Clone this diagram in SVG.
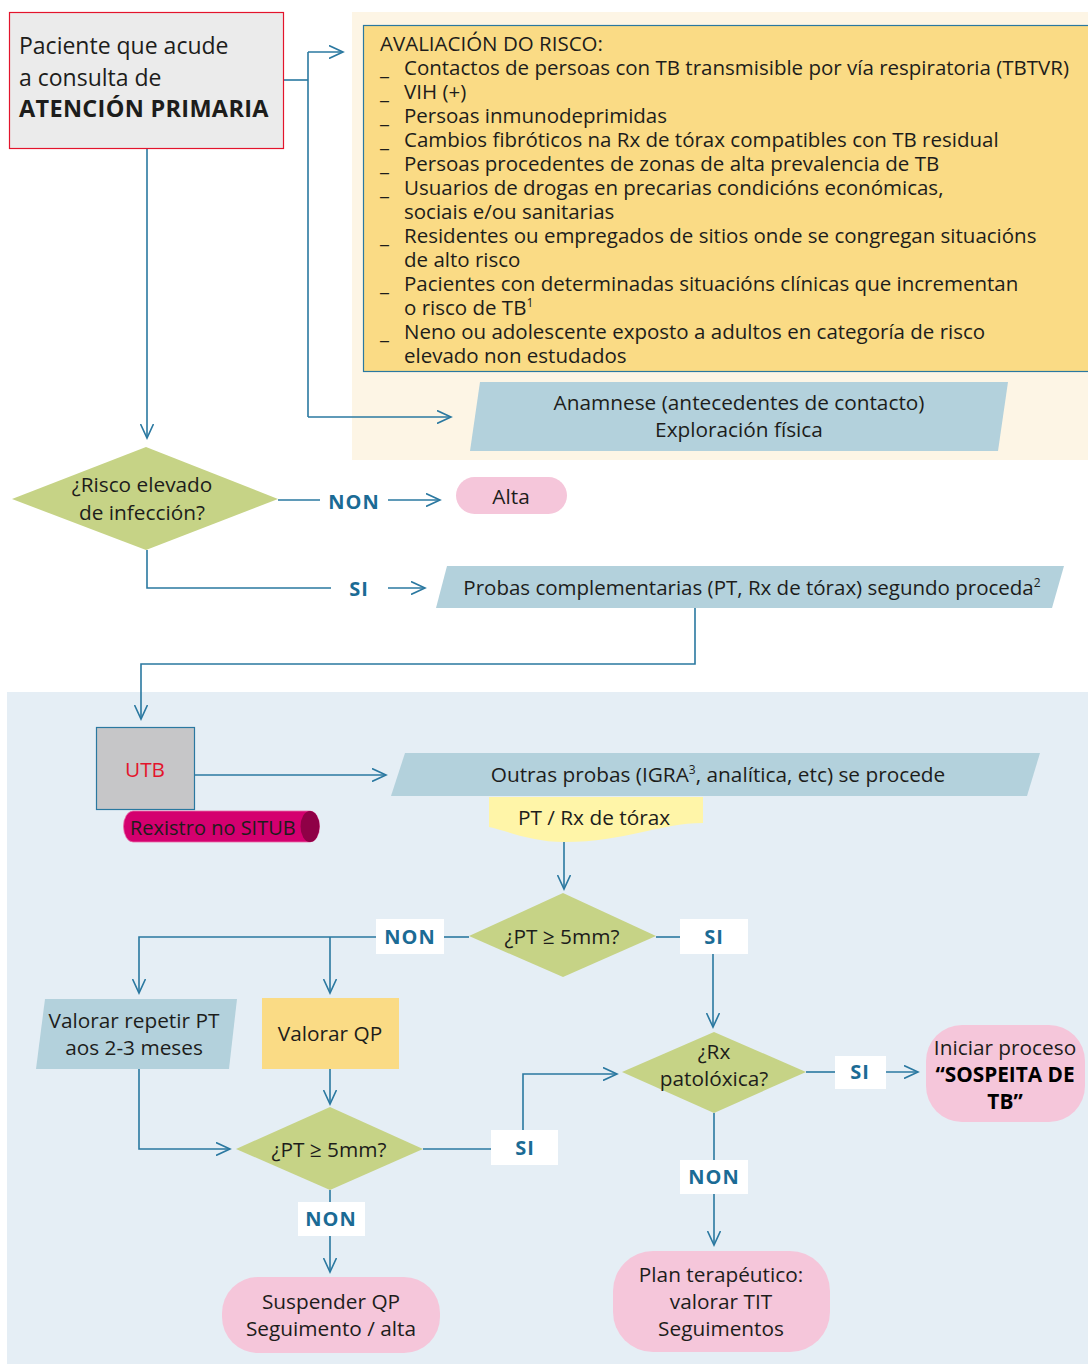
<svg xmlns="http://www.w3.org/2000/svg" width="1088" height="1364" viewBox="0 0 1088 1364">
<style>
text{font-family:"Open Sans","Noto Sans",sans-serif;fill:#1d1d1b;font-size:20.8px}
.c{text-anchor:middle}
.rl{font-size:20.5px}
.lb{font-weight:bold;fill:#1b6b95;font-size:20px;text-anchor:middle;letter-spacing:1px}
.ln{fill:none;stroke:#2a78a0;stroke-width:1.6}
.ar{marker-end:url(#ah)}
.para{fill:#b3d1dc}
.dia{fill:#c6d386}
.pill{fill:#f5c6da}
.wb{fill:#ffffff}
</style>
<defs>
<marker id="ah" markerUnits="userSpaceOnUse" markerWidth="16" markerHeight="14" refX="14" refY="7" orient="auto">
<path d="M0,0.5 L14,7 L0,13.5" fill="none" stroke="#2a78a0" stroke-width="1.6"/>
</marker>
</defs>

<!-- backgrounds -->
<rect x="352" y="12" width="736" height="448" fill="#fdf5e5"/>
<rect x="7" y="692" width="1081" height="672" fill="#e5eef5"/>

<g id="connectors">
<path class="ln" d="M284,80 H308"/>
<path class="ln" d="M308,52 V417"/>
<path class="ln ar" d="M308,52 H343"/>
<path class="ln ar" d="M308,417 H451"/>
<path class="ln ar" d="M147,149 V438"/>
<path class="ln" d="M278,500 H320"/>
<path class="ln ar" d="M388,500 H440"/>
<path class="ln" d="M147,550 V588 H331"/>
<path class="ln ar" d="M388,588 H425"/>
<path class="ln ar" d="M695,608 V664 H141 V719"/>
<path class="ln ar" d="M195,775 H386"/>
<path class="ln ar" d="M564,842 V889"/>
<path class="ln" d="M469,937 H444"/>
<path class="ln ar" d="M376,937 H139 V993"/>
<path class="ln ar" d="M330,937 V993"/>
<path class="ln" d="M656,937 H680"/>
<path class="ln ar" d="M713,954 V1027"/>
<path class="ln ar" d="M330,1069 V1104"/>
<path class="ln ar" d="M139,1069 V1149 H230"/>
<path class="ln" d="M423,1149 H491"/>
<path class="ln ar" d="M523,1130 V1074 H617"/>
<path class="ln" d="M806,1072 H835"/>
<path class="ln ar" d="M885,1072 H918"/>
<path class="ln" d="M714,1113 V1160"/>
<path class="ln ar" d="M714,1194 V1245"/>
<path class="ln" d="M330,1190 V1202"/>
<path class="ln ar" d="M330,1236 V1272"/>
</g>

<g id="n-paciente">
<rect x="9.5" y="12.5" width="274" height="136" fill="#ebebeb" stroke="#e3142c" stroke-width="1.2"/>
<text x="19" y="54" style="font-size:23px">Paciente que acude</text>
<text x="19" y="86" style="font-size:23px">a consulta de</text>
<text x="19" y="117" style="font-size:23.5px;font-weight:bold;letter-spacing:0.3px">ATENCIÓN PRIMARIA</text>
</g>

<g id="n-risco">
<rect x="363.5" y="25.5" width="730" height="346" fill="#fadb85" stroke="#2a78a0" stroke-width="1.2"/>
<text class="rl" x="380" y="51">AVALIACIÓN DO RISCO:</text>
<text class="rl" x="380" y="75">_<tspan x="404">Contactos de persoas con TB transmisible por vía respiratoria (TBTVR)</tspan></text>
<text class="rl" x="380" y="99">_<tspan x="404">VIH (+)</tspan></text>
<text class="rl" x="380" y="123">_<tspan x="404">Persoas inmunodeprimidas</tspan></text>
<text class="rl" x="380" y="147">_<tspan x="404">Cambios fibróticos na Rx de tórax compatibles con TB residual</tspan></text>
<text class="rl" x="380" y="171">_<tspan x="404">Persoas procedentes de zonas de alta prevalencia de TB</tspan></text>
<text class="rl" x="380" y="195">_<tspan x="404">Usuarios de drogas en precarias condicións económicas,</tspan></text>
<text class="rl" x="404" y="219">sociais e/ou sanitarias</text>
<text class="rl" x="380" y="243">_<tspan x="404">Residentes ou empregados de sitios onde se congregan situacións</tspan></text>
<text class="rl" x="404" y="267">de alto risco</text>
<text class="rl" x="380" y="291">_<tspan x="404">Pacientes con determinadas situacións clínicas que incrementan</tspan></text>
<text class="rl" x="404" y="315">o risco de TB<tspan style="font-size:12px" dy="-8">1</tspan></text>
<text class="rl" x="380" y="339">_<tspan x="404">Neno ou adolescente exposto a adultos en categoría de risco</tspan></text>
<text class="rl" x="404" y="363">elevado non estudados</text>
</g>

<g id="n-anamnese">
<polygon class="para" points="480,382 1008,382 998,451 470,451"/>
<text class="c" x="739" y="410">Anamnese (antecedentes de contacto)</text>
<text class="c" x="739" y="437">Exploración física</text>
</g>

<g id="n-risco-elevado">
<polygon class="dia" points="146,447 278,499 146,550 12,499"/>
<text class="c" x="142" y="492">¿Risco elevado</text>
<text class="c" x="142" y="520">de infección?</text>
</g>

<g id="l-non1"><text class="lb" x="354" y="509">NON</text></g>

<g id="n-alta">
<rect class="pill" x="456" y="477" width="111" height="37" rx="18.5"/>
<text class="c" x="511" y="504">Alta</text>
</g>

<g id="l-si1"><text class="lb" x="359" y="596">SI</text></g>

<g id="n-probas">
<polygon class="para" points="447,566 1064,566 1052,608 436,608"/>
<text class="c" x="752" y="595" style="font-size:20.5px">Probas complementarias (PT, Rx de tórax) segundo proceda<tspan style="font-size:12px" dy="-8">2</tspan></text>
</g>

<g id="n-utb">
<rect x="96.5" y="727.5" width="98" height="82" fill="#c6c6c8" stroke="#2a78a0" stroke-width="1.2"/>
<text class="c" x="145" y="777" style="fill:#e3142c">UTB</text>
</g>

<g id="n-situb">
<path d="M133,811 H310 A9.5,15.5 0 0 1 310,842 H133 A9.5,15.5 0 0 1 133,811 Z" fill="#d4006f" stroke="#e86aa6" stroke-width="0.8"/>
<ellipse cx="310" cy="826.5" rx="9.5" ry="15.5" fill="#8f0046"/>
<text x="130" y="835" style="font-size:20px">Rexistro no SITUB</text>
</g>

<g id="n-outras">
<polygon class="para" points="405,753 1040,753 1027,796 391,796"/>
<text class="c" x="718" y="782">Outras probas (IGRA<tspan style="font-size:12px" dy="-8">3</tspan><tspan dy="8">, analítica, etc) se procede</tspan></text>
</g>

<g id="n-ptrx">
<path d="M489,797 H703 V823 C660,823 625,842 565,842 C530,842 505,830 489,827 Z" fill="#fff5a8"/>
<text class="c" x="594" y="825">PT / Rx de tórax</text>
</g>

<g id="n-pt1">
<polygon class="dia" points="563,893 656,936 563,977 469,936"/>
<text class="c" x="562" y="944">¿PT ≥ 5mm?</text>
</g>

<g id="l-non2"><rect class="wb" x="376" y="919" width="68" height="35"/><text class="lb" x="410" y="944">NON</text></g>
<g id="l-si2"><rect class="wb" x="680" y="919" width="68" height="35"/><text class="lb" x="714" y="944">SI</text></g>

<g id="n-repetir">
<polygon class="para" points="45,999 237,999 229,1069 36,1069"/>
<text class="c" x="134" y="1028">Valorar repetir PT</text>
<text class="c" x="134" y="1055">aos 2-3 meses</text>
</g>

<g id="n-qp">
<rect x="262" y="998" width="137" height="71" fill="#fadb85"/>
<text class="c" x="330" y="1041">Valorar QP</text>
</g>

<g id="n-pt2">
<polygon class="dia" points="330,1107 423,1149 330,1190 236,1149"/>
<text class="c" x="329" y="1157">¿PT ≥ 5mm?</text>
</g>

<g id="l-si3"><rect class="wb" x="491" y="1130" width="67" height="35"/><text class="lb" x="525" y="1155">SI</text></g>

<g id="n-rx">
<polygon class="dia" points="714,1032 806,1072 714,1113 622,1072"/>
<text class="c" x="714" y="1059">¿Rx</text>
<text class="c" x="714" y="1086">patolóxica?</text>
</g>

<g id="l-si4"><rect class="wb" x="835" y="1056" width="51" height="33"/><text class="lb" x="860" y="1079">SI</text></g>

<g id="n-iniciar">
<rect class="pill" x="926" y="1025" width="159" height="97" rx="36"/>
<text class="c" x="1005" y="1055">Iniciar proceso</text>
<text class="c" x="1005" y="1082" style="font-weight:bold;fill:#000">“SOSPEITA DE</text>
<text class="c" x="1005" y="1109" style="font-weight:bold;fill:#000">TB”</text>
</g>

<g id="l-non4"><rect class="wb" x="680" y="1160" width="68" height="34"/><text class="lb" x="714" y="1184">NON</text></g>

<g id="n-plan">
<rect class="pill" x="613" y="1251" width="217" height="101" rx="40"/>
<text class="c" x="721" y="1282">Plan terapéutico:</text>
<text class="c" x="721" y="1309">valorar TIT</text>
<text class="c" x="721" y="1336">Seguimentos</text>
</g>

<g id="l-non3"><rect class="wb" x="298" y="1202" width="67" height="34"/><text class="lb" x="331" y="1226">NON</text></g>

<g id="n-suspender">
<rect class="pill" x="222" y="1277" width="218" height="76" rx="36"/>
<text class="c" x="331" y="1309">Suspender QP</text>
<text class="c" x="331" y="1336">Seguimento / alta</text>
</g>
</svg>
